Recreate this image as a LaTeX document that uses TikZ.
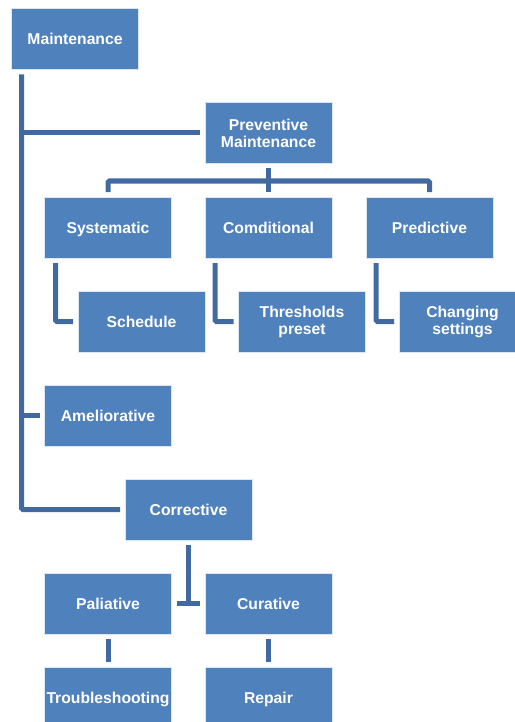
\documentclass[tikz,border=0pt]{standalone}
\usepackage{fontspec}
\setmainfont{Liberation Sans}
\usepackage{xcolor}
\usepackage{tikz}
\usetikzlibrary{positioning}
\definecolor{boxblue}{RGB}{79,129,189}
\definecolor{linkblue}{RGB}{65,107,160}
\tikzset{
    every node/.style={font=\fontsize{15.7}{17}\selectfont\bfseries}
}

\begin{document}
\begin{tikzpicture}[x=1pt,y=-1pt]
            % Define styles for boxes and connectors
            \tikzstyle{box} = [rectangle, draw=white!80!boxblue, line width=0.6pt,
                fill=boxblue, text=white, align=center, inner sep=0pt,
                minimum width=127pt, minimum height=61pt, outer sep=5pt,
                text height=11.3pt, text depth=0pt]
            \tikzstyle{twoline} = [text height=, text depth=]
            \tikzstyle{link} = [draw=linkblue, line width=5pt, rounded corners=1.5pt]

            \useasboundingbox (0,0) rectangle (514,722);

            % Draw root and first level
            \node[box] (main) at (75,39) {Maintenance};
            \node[box,twoline] (prev) at (268.5,133) {Preventive\\Maintenance};
            \node[box] (ameli) at (108,415.5) {Ameliorative};
            \node[box] (corr) at (188.5,509.5) {Corrective};

            % Draw preventive branch
            \node[box] (sys) at (108,227.5) {Systematic};
            \node[box] (cond) at (268.5,227.5) {Comditional};
            \node[box] (pred) at (429.5,227.5) {Predictive};
            \node[box] (sched) at (141.5,321.5) {Schedule};
            \node[box,twoline] (thr) at (302,321.5) {Thresholds\\preset};
            \node[box,twoline] (chg) at (462.5,321.5) {Changing\\settings};

            % Draw corrective branch
            \node[box] (pal) at (108,603.5) {Paliative};
            \node[box] (cur) at (268.5,603.5) {Curative};
            \node[box] (trb) at (108,697.5) {Troubleshooting};
            \node[box] (rep) at (268.5,697.5) {Repair};

            % Draw main spine
            \coordinate (spine) at ([xshift=15]main.south west);
            \draw[link] (spine) |- (corr.west);
            \draw[link] (spine |- prev.west) -- (prev.west);
            \draw[link] (spine |- ameli.west) -- (ameli.west);

            % Draw preventive connectors
            \coordinate (bar) at ([yshift=-12.5]prev.south);
            \draw[link] (sys.north) |- (bar) -| (pred.north);
            \draw[link] (prev.south) -- (cond.north);
            \draw[link] ([xshift=16]sys.south west) |- (sched.west);
            \draw[link] ([xshift=15]cond.south west) |- (thr.west);
            \draw[link] ([xshift=15]pred.south west) |- (chg.west);

            % Draw corrective connectors
            \draw[link] (pal.east) -- (cur.west);
            \draw[link] (corr.south) -- (corr.south |- cur.west);
            \draw[link] (pal.south) -- (trb.north);
            \draw[link] (cur.south) -- (rep.north);
        \end{tikzpicture}
\end{document}
